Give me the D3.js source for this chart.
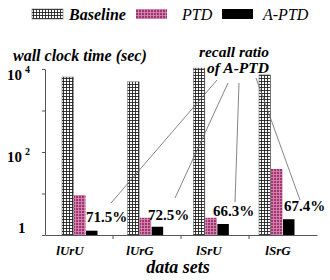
<!DOCTYPE html>
<html><head><meta charset="utf-8">
<script src="https://cdn.jsdelivr.net/npm/d3@7"></script>
<style>body{margin:0;background:#fff}svg{display:block}</style>
</head><body>
<svg id="c" width="330" height="280" font-family="Liberation Serif"></svg>
<script>
const categories = ["lUrU", "lUrG", "lSrU", "lSrG"];
const seriesNames = ["Baseline", "PTD", "A-PTD"];
const baseline = [6400, 4900, 10500, 7200];
const ptd = [9.2, 2.6, 2.6, 39];
const aptd = [1.27, 1.58, 1.84, 2.4];
const recall = ["71.5%", "72.5%", "66.3%", "67.4%"];
const yTickValues = [1, 10, 100, 1000, 10000];
const yTickLabels = [["1", ""], ["10", "2"], ["10", "4"]];
const yLabelValues = [1, 100, 10000];

const svg = d3.select("#c");
const defs = svg.append("defs");

// patterns
const p1 = defs.append("pattern").attr("id","pBase").attr("patternUnits","userSpaceOnUse").attr("width",3).attr("height",3);
p1.append("rect").attr("width",3).attr("height",3).attr("fill","#fff");
p1.append("path").attr("d","M0,0.5H3M0.5,0V3").attr("stroke","#222").attr("stroke-width",0.9);
const p2 = defs.append("pattern").attr("id","pPtd").attr("patternUnits","userSpaceOnUse").attr("width",3).attr("height",3);
p2.append("rect").attr("width",3).attr("height",3).attr("fill","#a2356f");
p2.append("path").attr("d","M0,0.5H3M0.5,0V3").attr("stroke","#d88db5").attr("stroke-width",0.8);
const fills = ["url(#pBase)", "url(#pPtd)", "#000"];

const y = d3.scaleLog().domain([1, 10000]).range([235, 69]);
const xBand = d3.scaleBand().domain(categories).range([45, 317]);
const xCenter = d3.scalePoint().domain(categories).range([80, 277]);
const xSub = d3.scaleBand().domain(seriesNames).range([-18, 18]).padding(0);

// bars
const series = [baseline, ptd, aptd];
series.forEach((vals, si) => {
  svg.append("g").selectAll("rect").data(vals).join("rect")
    .attr("x", (d, i) => xCenter(categories[i]) + xSub(seriesNames[si]))
    .attr("width", xSub.bandwidth() - 0.5)
    .attr("y", d => y(d))
    .attr("height", d => y(1) - y(d))
    .attr("fill", fills[si])
    .attr("stroke", si === 0 ? "#555" : "none")
    .attr("stroke-width", 0.5);
});

// y axis
const ya = svg.append("g").attr("transform","translate(45,0)")
  .call(d3.axisLeft(y).tickValues(yTickValues).tickFormat("").tickSize(3).tickSizeOuter(0));
ya.selectAll("path,line").attr("stroke","#555");
// x axis
const xa = svg.append("g").attr("transform","translate(0,235)")
  .call(d3.axisBottom(xBand).tickFormat("").tickSize(0).tickSizeOuter(0));
xa.select("path").attr("stroke","#555");
svg.append("g").selectAll("line").data(categories.slice(1)).join("line")
  .attr("x1", d => xBand(d)).attr("x2", d => xBand(d))
  .attr("y1", 235).attr("y2", 239).attr("stroke","#555");

// y labels
const yLabelBase = [233, 162, 80];
yLabelValues.forEach((v, i) => {
  const t = svg.append("text").attr("x", i === 0 ? 18 : 7).attr("y", yLabelBase[i])
    .attr("font-family","Liberation Serif").attr("font-weight","bold").attr("font-size", 15).attr("fill","#000");
  t.append("tspan").text(yTickLabels[i][0]);
  if (yTickLabels[i][1]) t.append("tspan").attr("dx", 3).attr("dy", -7).attr("font-size", 10).text(yTickLabels[i][1]);
});

// category labels
svg.append("g").selectAll("text").data(categories).join("text")
  .attr("x", (d, i) => [70, 140, 209, 278][i]).attr("y", 255)
  .attr("text-anchor","middle").attr("font-family","Liberation Serif").attr("font-weight","bold")
  .attr("font-style","italic").attr("font-size", 13).text(d => d);

svg.append("text").attr("x", 178).attr("y", 273).attr("text-anchor","middle")
  .attr("font-family","Liberation Serif").attr("font-weight","bold").attr("font-style","italic")
  .attr("font-size", 18).text("data sets");

svg.append("text").attr("x", 13).attr("y", 61)
  .attr("font-family","Liberation Serif").attr("font-weight","bold").attr("font-style","italic")
  .attr("font-size", 16).text("wall clock time (sec)");

svg.append("text").attr("x", 234).attr("y", 57).attr("text-anchor","middle")
  .attr("font-family","Liberation Serif").attr("font-weight","bold").attr("font-style","italic")
  .attr("font-size", 15.5).text("recall ratio");
svg.append("text").attr("x", 238).attr("y", 73).attr("text-anchor","middle")
  .attr("font-family","Liberation Serif").attr("font-weight","bold").attr("font-style","italic")
  .attr("font-size", 15.5).text("of A-PTD");

// recall labels
const rx = [86, 148, 213, 284];
const ry = [222, 220, 216, 211];
svg.append("g").selectAll("text").data(recall).join("text")
  .attr("x", (d, i) => rx[i]).attr("y", (d, i) => ry[i])
  .attr("font-family","Liberation Serif").attr("font-weight","bold").attr("font-size", 15).text(d => d);

// leader lines
const leaders = [[217, 80, 111, 203], [228, 83, 175, 198], [239, 83, 235, 202], [256, 78, 300, 200]];
svg.append("g").selectAll("line").data(leaders).join("line")
  .attr("x1", d => d[0]).attr("y1", d => d[1]).attr("x2", d => d[2]).attr("y2", d => d[3])
  .attr("stroke", "#666").attr("stroke-width", 0.8);

// legend
const lg = svg.append("g");
const lx = [32, 136, 222];
const tx = [69, 182, 263];
seriesNames.forEach((s, i) => {
  lg.append("rect").attr("x", lx[i]).attr("y", 9).attr("width", 31).attr("height", 10)
    .attr("fill", fills[i]).attr("stroke", i === 0 ? "#555" : "none").attr("stroke-width", 0.5);
  lg.append("text").attr("x", tx[i]).attr("y", 20)
    .attr("font-family","Liberation Serif").attr("font-style","italic").attr("font-weight", i === 0 ? "bold" : "normal")
    .attr("font-size", 16).text(s);
});
</script>
</body></html>
